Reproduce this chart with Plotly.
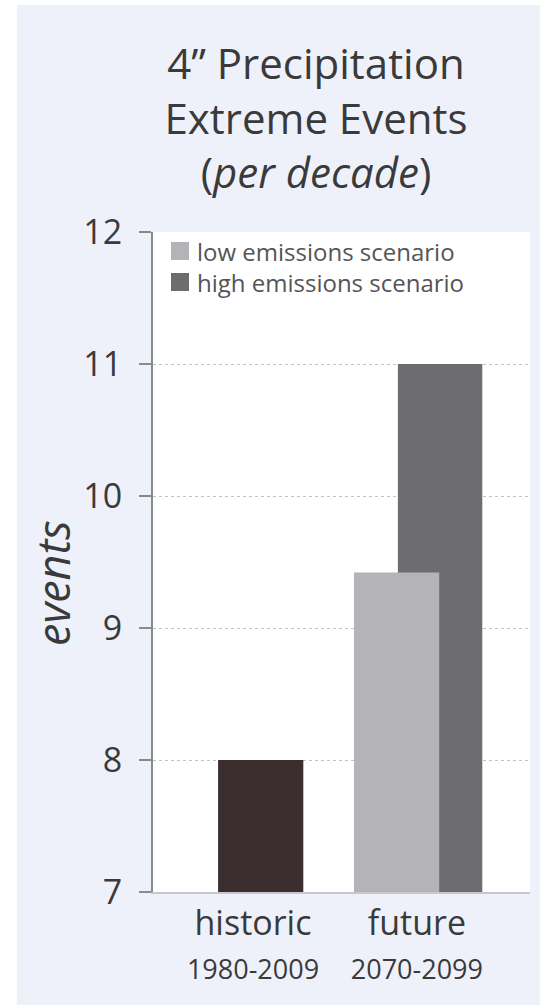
import plotly.graph_objects as go

# Extreme precipitation events (4" or more) per decade
periods = ["historic", "future"]
period_years = ["1980-2009", "2070-2099"]
historic_events = [8.0]
low_scenario_events = [9.42]
high_scenario_events = [11.0]
series_names = ["low emissions scenario", "high emissions scenario"]
series_colors = ["#b4b4b8", "#6d6d6f"]
y_ticks = [7, 8, 9, 10, 11, 12]

W, H = 540, 1005
L, R, T, B = 153, 10, 232, 113
FONT = "Open Sans"
TEXT = "#3a3a3a"


def fx(px):
    """Horizontal pixel position -> paper fraction."""
    return (px - L) / (W - L - R)


def fy(py):
    """Vertical pixel position -> paper fraction."""
    return (H - B - py) / (H - T - B)


tick_text = [f"{p}<br><span style='font-size:27px'>{y}</span>" for p, y in zip(periods, period_years)]

fig = go.Figure()
fig.add_trace(go.Bar(
    x=[periods[0]], y=[v - 7 for v in historic_events], base=7,
    width=0.52, offset=-0.213,
    marker=dict(color="#3a2e2f", line=dict(width=0)),
    showlegend=False, name="historic",
))
fig.add_trace(go.Bar(
    x=[periods[1]], y=[v - 7 for v in high_scenario_events], base=7,
    width=0.515, offset=-0.116,
    marker=dict(color=series_colors[1], line=dict(width=0)),
    showlegend=False, name=series_names[1],
))
fig.add_trace(go.Bar(
    x=[periods[1]], y=[v - 7 for v in low_scenario_events], base=7,
    width=0.52, offset=-0.384,
    marker=dict(color=series_colors[0], line=dict(width=0)),
    showlegend=False, name=series_names[0],
))

shapes = [
    # white margin strip along the left and top edges of the page
    dict(type="rect", xref="paper", yref="paper", x0=fx(0), x1=fx(17), y0=fy(H), y1=fy(0),
         fillcolor="#ffffff", line=dict(width=0), layer="above"),
    dict(type="rect", xref="paper", yref="paper", x0=fx(0), x1=fx(W), y0=fy(5), y1=fy(0),
         fillcolor="#ffffff", line=dict(width=0), layer="above"),
]
annotations = []

# legend: colour swatches + a two-line label block
LEG_TOP, LEG_STEP = 251, 31
for i, color in enumerate(series_colors):
    cy = LEG_TOP + i * LEG_STEP
    shapes.append(dict(type="rect", xref="paper", yref="paper",
                       x0=fx(171), x1=fx(189), y0=fy(cy + 9), y1=fy(cy - 9),
                       fillcolor=color, line=dict(width=0)))
annotations.append(dict(text="<br>".join(series_names), xref="paper", yref="paper",
                        x=fx(195), y=fy(LEG_TOP + LEG_STEP / 2), xanchor="left", yanchor="middle",
                        align="left", showarrow=False,
                        font=dict(size=24, color="#555555")))

# rotated y-axis label
annotations.append(dict(text="<i>events</i>", xref="paper", yref="paper",
                        x=fx(52), y=fy(583), xanchor="center", yanchor="middle",
                        textangle=-90, showarrow=False,
                        font=dict(size=45, color=TEXT)))

fig.update_layout(
    width=W, height=H,
    margin=dict(l=L, r=R, t=T, b=B),
    paper_bgcolor="#eff1fa",
    plot_bgcolor="#ffffff",
    barmode="overlay",
    showlegend=False,
    font=dict(family=FONT, color=TEXT),
    title=dict(
        text="4\u201d Precipitation<br>Extreme Events<br>(<i>per decade</i>)",
        x=316 / W, xanchor="center", xref="container",
        y=1 - 79 / H, yanchor="top", yref="container",
        font=dict(size=42, color=TEXT, family=FONT),
    ),
    shapes=shapes,
    annotations=annotations,
    xaxis=dict(
        type="category", categoryorder="array", categoryarray=periods,
        range=[-0.61, 1.69],
        tickmode="array", tickvals=periods, ticktext=tick_text,
        tickfont=dict(size=34, color=TEXT),
        showgrid=False, ticks="",
        showline=True, linecolor="#c8c8cc", linewidth=2,
        zeroline=False,
    ),
    yaxis=dict(
        range=[7, 12], tickvals=y_ticks,
        tickfont=dict(size=34, color=TEXT),
        ticks="outside", ticklen=12, tickcolor="#8a8a8a", tickwidth=2,
        ticklabelstandoff=10,
        showline=True, linecolor="#8a8a8a", linewidth=2,
        showgrid=True, gridcolor="#c4c4c4", griddash="dot", gridwidth=1,
        zeroline=False,
    ),
)

fig.write_html("out.html")
